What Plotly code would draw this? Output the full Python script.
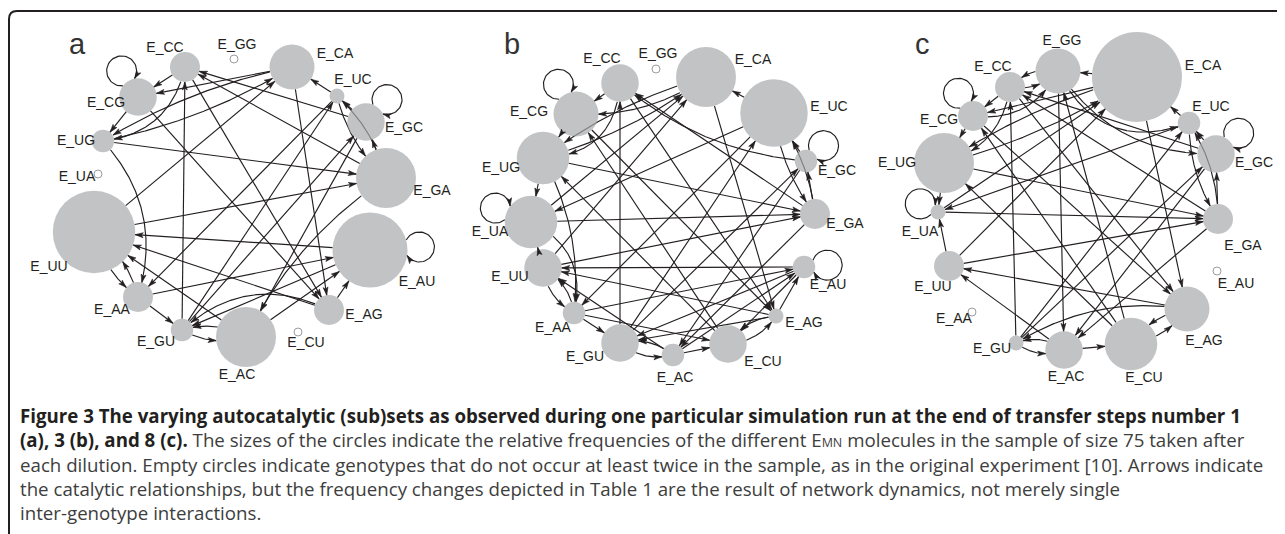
import numpy as np
import plotly.graph_objects as go

# ---------------- data ----------------
GENOTYPES = ["AA", "AC", "AG", "AU", "CA", "CC", "CG", "CU",
             "GA", "GC", "GG", "GU", "UA", "UC", "UG", "UU"]

# catalytic relationships  E_source -> E_target
EDGES = [
    ("AA", "AU"), ("AA", "CU"), ("AA", "GU"), ("AA", "UU"),
    ("AC", "AU"), ("AC", "CU"), ("AC", "GU"), ("AC", "UU"),
    ("AG", "AU"), ("AG", "CU"), ("AG", "GU"), ("AG", "UU"),
    ("AU", "AU"), ("AU", "CU"), ("AU", "GU"), ("AU", "UU"),
    ("CA", "AG"), ("CA", "CG"), ("CA", "GG"), ("CA", "UG"),
    ("CC", "AG"), ("CC", "CG"), ("CC", "GG"), ("CC", "UG"),
    ("CG", "AG"), ("CG", "CG"), ("CG", "GG"), ("CG", "UG"),
    ("CU", "AG"), ("CU", "CG"), ("CU", "GG"), ("CU", "UG"),
    ("GA", "AC"), ("GA", "CC"), ("GA", "GC"), ("GA", "UC"),
    ("GC", "AC"), ("GC", "CC"), ("GC", "GC"), ("GC", "UC"),
    ("GG", "AC"), ("GG", "CC"), ("GG", "GC"), ("GG", "UC"),
    ("GU", "AC"), ("GU", "CC"), ("GU", "GC"), ("GU", "UC"),
    ("UA", "AA"), ("UA", "CA"), ("UA", "GA"), ("UA", "UA"),
    ("UC", "AA"), ("UC", "CA"), ("UC", "GA"), ("UC", "UA"),
    ("UG", "AA"), ("UG", "CA"), ("UG", "GA"), ("UG", "UA"),
    ("UU", "AA"), ("UU", "CA"), ("UU", "GA"), ("UU", "UA"),
]

# counts in the sample of 75 (order = GENOTYPES)
COUNTS_A = [4, 8, 4, 10, 6, 4, 5, 1, 8, 5, 1, 3, 0, 2, 3, 11]
COUNTS_B = [3, 3, 2, 3, 8, 5, 6, 5, 4, 3, 0, 5, 7, 9, 7, 5]
COUNTS_C = [1, 5, 6, 1, 12, 4, 4, 7, 4, 5, 6, 2, 2, 3, 8, 4]

# circular layouts (pixel frame of the figure)
LAYOUT_X_A = [138, 246, 329, 370, 292, 185, 138, 298, 386, 366, 234, 182, 98, 337, 103, 94]
LAYOUT_Y_A = [297, 337, 310, 250, 67, 67, 97, 332, 178, 122, 59, 330, 174, 96, 141, 232]
LAYOUT_X_B = [574, 673, 776, 804, 706, 620, 576, 728, 815, 806, 656, 620, 531, 774, 543, 543]
LAYOUT_Y_B = [313, 355, 316, 267, 77, 83, 114, 344, 214, 161, 69, 343, 222, 113, 158, 268]
LAYOUT_X_C = [972, 1064, 1187, 1217, 1137, 1010, 973, 1131, 1218, 1216, 1058, 1016, 938, 1189, 944, 949]
LAYOUT_Y_C = [312, 350, 309, 271, 77, 87, 116, 344, 219, 154, 71, 343, 212, 123, 163, 266]

LABEL_X_A = [112, 237, 364, 417, 335, 165, 106, 306, 432, 404, 237, 156, 77, 353, 76, 49]
LABEL_Y_A = [310, 375, 315, 282, 54, 48, 103, 343, 191, 128, 45, 342, 177, 80, 141, 267]
LABEL_X_B = [553, 675, 804, 828, 753, 602, 529, 763, 845, 837, 658, 585, 490, 829, 501, 510]
LABEL_Y_B = [328, 378, 323, 285, 60, 59, 112, 362, 224, 171, 54, 357, 232, 107, 168, 277]
LABEL_X_C = [954, 1066, 1204, 1236, 1203, 993, 939, 1144, 1243, 1254, 1062, 992, 920, 1211, 897, 933]
LABEL_Y_C = [319, 377, 341, 284, 66, 67, 120, 378, 246, 163, 41, 349, 232, 107, 163, 287]

PANEL_LETTERS = ["a", "b", "c"]
PANEL_LETTER_X = [77, 512, 922]

CAPTION = [
    "<span style='color:#231f20'><b>Figure 3 The varying autocatalytic (sub)sets as observed during one particular simulation run at the end of transfer steps number 1</b></span>",
    "<span style='color:#231f20'><b>(a), 3 (b), and 8 (c).</b></span> The sizes of the circles indicate the relative frequencies of the different E<span style='font-size:12.5px'>MN</span> molecules in the sample of size 75 taken after",
    "each dilution. Empty circles indicate genotypes that do not occur at least twice in the sample, as in the original experiment [10]. Arrows indicate",
    "the catalytic relationships, but the frequency changes depicted in Table 1 are the result of network dynamics, not merely single",
    "inter-genotype interactions.",
]

# ---------------- styles ----------------
INK = "#231f20"
NODE_GRAY = "#a7a9ac"
EMPTY_GRAY = "#9a9c9f"
PX_PER_COUNT = 3.75
EMPTY_R = 4.0
LOOP_R = 15.0
HEAD_L = 8.0
HEAD_W = 5.0
W, H = 1285, 534
OFF = 8  # page body margin in the browser


def head(tip, u):
    n = np.array([-u[1], u[0]])
    b = tip - u * HEAD_L
    notch = tip - u * HEAD_L * 0.78
    pts = [tip, b + n * HEAD_W / 2, notch, b - n * HEAD_W / 2, tip]
    return [p[0] for p in pts], [p[1] for p in pts]


def curve(ps, pt, rs, rt, h):
    """quadratic Bezier from ps to pt with control offset h (signed), clipped at node rims"""
    v = pt - ps
    u = v / np.linalg.norm(v)
    nrm = np.array([-u[1], u[0]])
    c = (ps + pt) / 2 + nrm * h
    tt = np.linspace(0, 1, 300)[:, None]
    pts = (1 - tt) ** 2 * ps + 2 * (1 - tt) * tt * c + tt ** 2 * pt
    keep = (np.linalg.norm(pts - ps, axis=1) > rs) & (np.linalg.norm(pts - pt, axis=1) > rt)
    pts = pts[keep]
    uu = pts[-1] - pts[-6]
    return pts, uu / np.linalg.norm(uu)


def build_panel(counts, xs, ys):
    P = {g: np.array([x, y], float) for g, x, y in zip(GENOTYPES, xs, ys)}
    R = {g: (PX_PER_COUNT * c if c >= 2 else EMPTY_R) for g, c in zip(GENOTYPES, counts)}
    present = [g for g, c in zip(GENOTYPES, counts) if c >= 2]
    edges = [(s, t) for s, t in EDGES if s in present and t in present]
    eset = set(edges)
    ctr = np.array([np.mean(xs), np.mean(ys)])
    lx, ly, hx, hy = [], [], [], []
    for s, t in edges:
        ps, pt, rs, rt = P[s], P[t], R[s], R[t]
        if s == t:
            d = ps - ctr
            d = d / np.linalg.norm(d) + np.array([0, -0.45])
            d = d / np.linalg.norm(d)
            D = rs + 0.8 * LOOP_R
            cc = ps + d * D
            cb = (rs ** 2 - D ** 2 - LOOP_R ** 2) / (2 * D * LOOP_R)
            beta = np.arccos(np.clip(cb, -1, 1))
            phi = np.arctan2(d[1], d[0])
            dl = np.linspace(-beta, beta, 60)
            px = cc[0] + LOOP_R * np.cos(phi + dl)
            py = cc[1] + LOOP_R * np.sin(phi + dl)
            lx += list(px) + [None]
            ly += list(py) + [None]
            tip = np.array([px[-1], py[-1]])
            u = np.array([-np.sin(phi + beta), np.cos(phi + beta)])
            a, b = head(tip, u)
            hx += a + [None]
            hy += b + [None]
            continue
        v = pt - ps
        L = np.linalg.norm(v)
        u = v / L
        nrm = np.array([-u[1], u[0]])
        h = 0.0
        if (t, s) in eset:
            h = 2 * (6 + 0.015 * L)
        else:
            # route around a node that the straight segment would cross
            for k in present:
                if k in (s, t):
                    continue
                w = P[k] - ps
                tk = np.dot(w, u) / L
                if not 0.15 < tk < 0.85:
                    continue
                sd = np.dot(w, nrm)
                if abs(sd) < R[k]:
                    need = R[k] + 10 - abs(sd)
                    hk = -np.sign(sd if sd != 0 else 1) * need / (2 * tk * (1 - tk))
                    if abs(hk) > abs(h):
                        h = hk
        if h != 0.0:
            pts, uu = curve(ps, pt, rs, rt, h)
            lx += list(pts[:, 0]) + [None]
            ly += list(pts[:, 1]) + [None]
            tip = pts[-1]
        else:
            a0 = ps + u * rs
            tip = pt - u * rt
            lx += [a0[0], tip[0], None]
            ly += [a0[1], tip[1], None]
            uu = u
        a, b = head(tip, uu)
        hx += a + [None]
        hy += b + [None]

    traces = [
        go.Scatter(x=lx, y=ly, mode="lines", line=dict(color=INK, width=1.15),
                   hoverinfo="skip", showlegend=False),
    ]
    fx = [P[g][0] for g in present]
    fy = [P[g][1] for g in present]
    fs = [2 * R[g] for g in present]
    traces.append(go.Scatter(x=fx, y=fy, mode="markers",
                             marker=dict(size=fs, color=NODE_GRAY, line=dict(width=0)),
                             hoverinfo="skip", showlegend=False))
    ex = [P[g][0] for g in GENOTYPES if g not in present]
    ey = [P[g][1] for g in GENOTYPES if g not in present]
    traces.append(go.Scatter(x=ex, y=ey, mode="markers",
                             marker=dict(size=2 * EMPTY_R, color="white",
                                         line=dict(width=1, color=EMPTY_GRAY)),
                             hoverinfo="skip", showlegend=False))
    traces.append(go.Scatter(x=hx, y=hy, mode="lines", fill="toself", fillcolor=INK,
                             line=dict(color=INK, width=0.6), hoverinfo="skip",
                             showlegend=False))
    return traces


fig = go.Figure()
panels = [
    (COUNTS_A, LAYOUT_X_A, LAYOUT_Y_A, LABEL_X_A, LABEL_Y_A),
    (COUNTS_B, LAYOUT_X_B, LAYOUT_Y_B, LABEL_X_B, LABEL_Y_B),
    (COUNTS_C, LAYOUT_X_C, LAYOUT_Y_C, LABEL_X_C, LABEL_Y_C),
]
for counts, xs, ys, lxs, lys in panels:
    for tr in build_panel(counts, xs, ys):
        fig.add_trace(tr)
    fig.add_trace(go.Scatter(x=lxs, y=lys, mode="text", text=["E_" + g for g in GENOTYPES],
                             textposition="middle center",
                             textfont=dict(family="Liberation Sans, Arial", size=14, color=INK),
                             hoverinfo="skip", showlegend=False))

annotations = []
for letter, x in zip(PANEL_LETTERS, PANEL_LETTER_X):
    annotations.append(dict(x=x, y=44, xref="x", yref="y", text=letter, showarrow=False,
                            xanchor="center", yanchor="middle",
                            font=dict(family="Liberation Sans, Arial", size=29, color="#333333")))

annotations.append(dict(x=18, y=464, xref="x", yref="y", text="<br>".join(CAPTION),
                        showarrow=False, xanchor="left", yanchor="middle", align="left",
                        font=dict(family="Open Sans", size=18.7, color="#3d3d3d")))

fig.update_layout(
    width=W - OFF, height=H - OFF,
    margin=dict(l=0, r=0, t=0, b=0),
    paper_bgcolor="white", plot_bgcolor="white",
    xaxis=dict(range=[OFF, W], visible=False, fixedrange=True),
    yaxis=dict(range=[H, OFF], visible=False, fixedrange=True),
    annotations=annotations,
    shapes=[dict(type="path", xref="x", yref="y",
                 path="M 9,540 L 9,19 Q 9,11 17,11 L 1295,11",
                 line=dict(color=INK, width=2))],
)

fig.write_html("out.html")
